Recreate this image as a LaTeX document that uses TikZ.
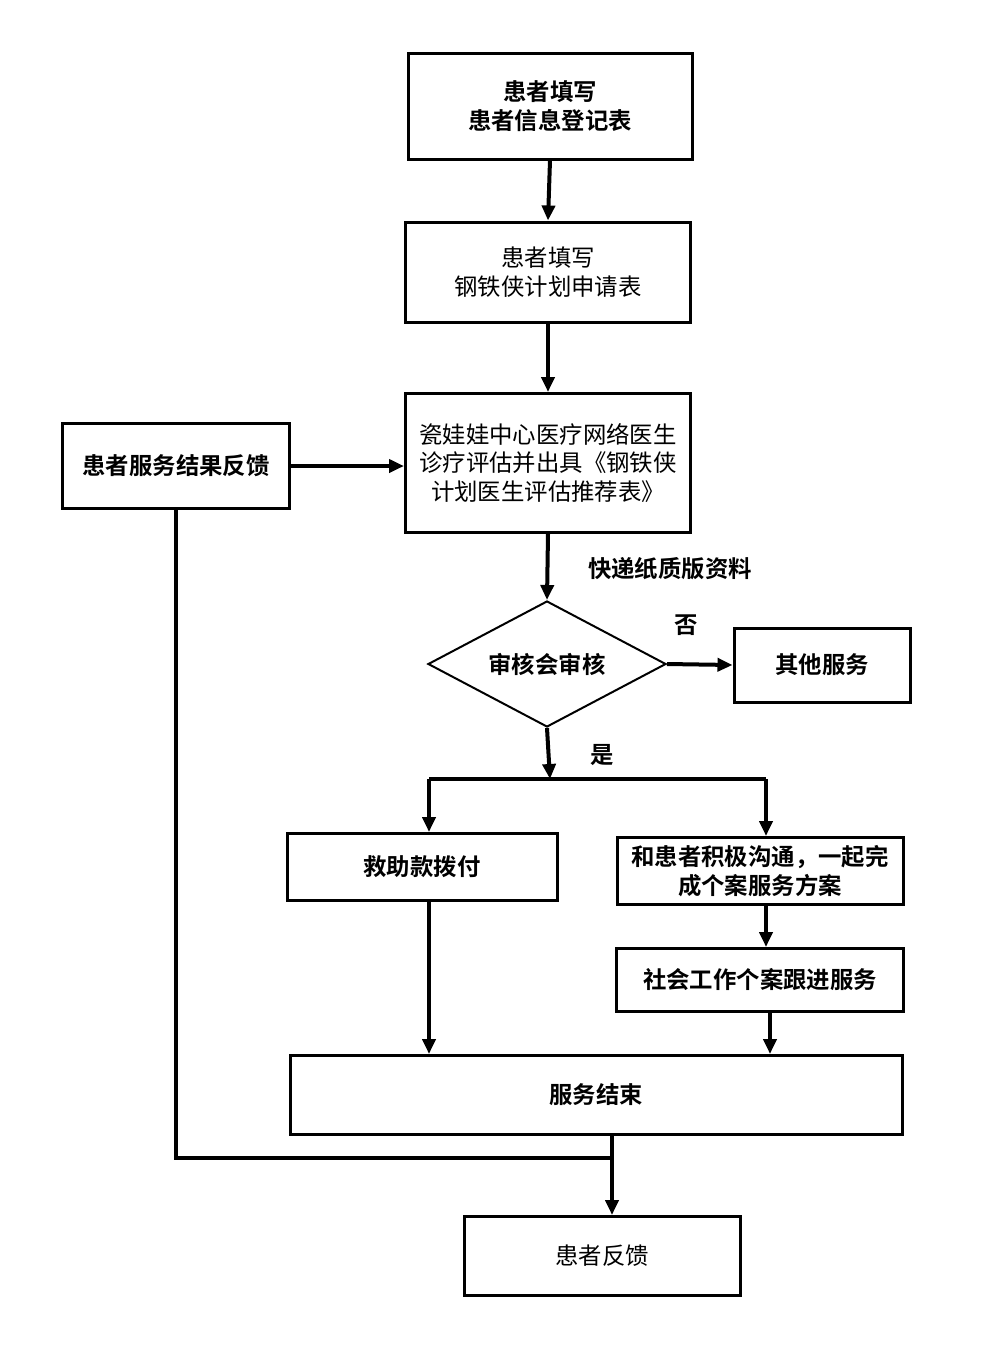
\documentclass[tikz,border=0pt]{standalone}
\usepackage{fontspec}
\usepackage{tikz}
\usetikzlibrary{arrows.meta,shapes.geometric,positioning}
\newfontfamily\cjk{Noto Sans CJK SC}[BoldFont={Noto Sans CJK SC Bold}]

\tikzset{
  box/.style={draw, line width=1.5pt, align=center, inner sep=2pt,
    font=\cjk\fontsize{11.7pt}{14.2pt}\selectfont},
  boldbox/.style={box, font=\cjk\bfseries\fontsize{11.7pt}{14.2pt}\selectfont},
  check/.style={draw, diamond, line width=1pt, aspect=1.89, inner sep=0pt,
    minimum width=119pt, minimum height=63pt,
    font=\cjk\bfseries\fontsize{11.7pt}{14.2pt}\selectfont},
  note/.style={font=\cjk\bfseries\fontsize{11.7pt}{14.2pt}\selectfont},
  arr/.style={line width=2pt, -{Triangle[width=6.5pt,length=7.5pt]}},
  link/.style={line width=2pt}
}

\begin{document}
\begin{tikzpicture}[x=0.5pt, y=-0.5pt]
            % Fix the page size
            \useasboundingbox (0,0) rectangle (1006,1346);

            % Draw the main column
            \node[boldbox, minimum width=142pt, minimum height=53pt] (regform) at (550,106) {患者填写\\患者信息登记表};
            \node[box, minimum width=142.5pt, minimum height=50pt] (applyform) at (548,272) {患者填写\\钢铁侠计划申请表};
            \node[box, minimum width=142.5pt, minimum height=69.5pt] (doctor) at (548,463) {瓷娃娃中心医疗网络医生\\诊疗评估并出具《钢铁侠\\计划医生评估推荐表》};
            \node[boldbox, minimum width=113.5pt, minimum height=42.5pt] (result) at (176,466) {患者服务结果反馈};
            \node[check] (review) at (547,664) {审核会审核};
            \node[boldbox, minimum width=88pt, minimum height=37pt] (other) at (822,665) {其他服务};

            % Draw the two branches
            \node[boldbox, minimum width=135pt, minimum height=33.5pt] (aid) at (422,867) {救助款拨付};
            \node[boldbox, minimum width=143pt, minimum height=33.5pt] (plan) at (760,871) {和患者积极沟通，一起完\\成个案服务方案};
            \node[boldbox, minimum width=143.5pt, minimum height=31.5pt] (social) at (760,980) {社会工作个案跟进服务};
            \node[boldbox, minimum width=306pt, minimum height=39.5pt] (finish) at (596,1095) {服务结束};
            \node[box, minimum width=138pt, minimum height=39.5pt] (feedback) at (602,1256) {患者反馈};

            % Add the labels
            \node[note] (express) at (670,569) {快递纸质版资料};
            \node[note] (no) at (686,625) {否};
            \node[note] (yes) at (602,755) {是};

            % Helper points
            \coordinate (split) at (550,779);
            \coordinate (splitL) at (429,779);
            \coordinate (splitR) at (766,779);
            \coordinate (join) at (612,1158);

            % Draw the arrows
            \draw[arr] (regform.south) -- (applyform.north);
            \draw[arr] (applyform.south) -- (doctor.north);
            \draw[arr] (result.east) -- (result.east -| doctor.west);
            \draw[arr] (doctor.south) -- (review.north);
            \draw[arr] (review.east) -- (other.west);
            \draw[arr] (review.south) -- (split);
            \draw[link] (splitL) -- (splitR);
            \draw[arr] (splitL) -- (splitL |- aid.north);
            \draw[arr] (splitR) -- (splitR |- plan.north);
            \draw[arr] (plan.south -| splitR) -- (social.north -| splitR);
            \draw[arr] (aid.south -| splitL) -- (finish.north -| splitL);
            \draw[arr] (social.south -| 770,0) -- (finish.north -| 770,0);

            % Feedback line back to the patient
            \draw[link] (result.south) -- (result.south |- join) -- (join);
            \draw[arr] (finish.south -| join) -- (feedback.north -| join);
        \end{tikzpicture}
\end{document}
